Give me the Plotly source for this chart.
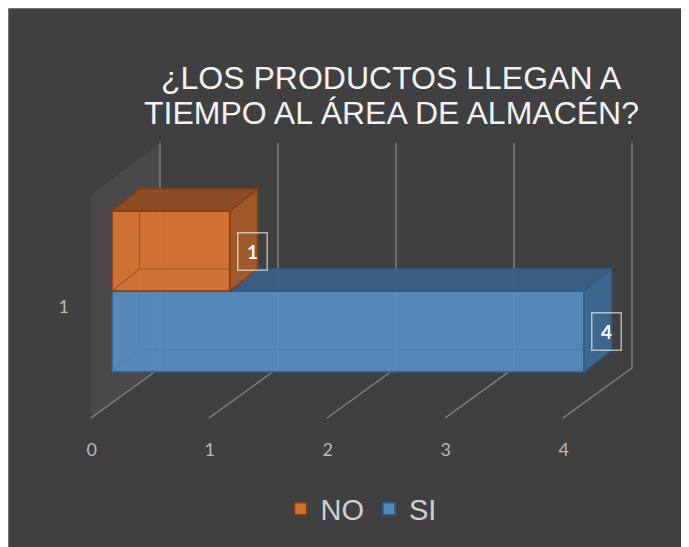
import plotly.graph_objects as go

# ---------------- data ----------------
categories = ["1"]
series_names = ["NO", "SI"]
values_no = [1]
values_si = [4]
x_ticks = [0, 1, 2, 3, 4]
x_tick_labels = ["0", "1", "2", "3", "4"]
title_lines = ["¿LOS PRODUCTOS LLEGAN A", "TIEMPO AL ÁREA DE ALMACÉN?"]

# ---------------- styles / geometry (layout, not data) ----------------
BG = "#404040"
GRID = "#858585"
WALL = "#4A4848"
FONT_TITLE = "Liberation Sans, Arial, sans-serif"
FONT_AX = "Lato, Carlito, sans-serif"

W, H = 689, 547
OFF = 8                                  # page body margin
PX_PER_UNIT = 118.0
FRONT_X0 = 112.0 - OFF                   # figure pixel of value 0 on the bar front plane
BACK_OFF = 48 / PX_PER_UNIT              # back wall plane offset (value units)
FLOOR_OFF = -21 / PX_PER_UNIT            # floor front edge offset
GRID_TOP, GRID_BOT, FLOOR_Y = 143 - OFF, 368 - OFF, 418 - OFF
WALL_TOP_FRONT = 195 - OFF
DDX, DDY = 27.5 / PX_PER_UNIT, -22.0     # bar depth offset

bar_rows = {"NO": (211 - OFF, 291 - OFF), "SI": (291 - OFF, 372 - OFF)}
colors = {
    "NO": dict(front="rgba(219,117,52,0.93)", top="rgba(142,78,35,0.95)",
               side="rgba(166,90,40,0.93)", edge="#8A3D0E", hidden="rgba(120,60,20,0.5)"),
    "SI": dict(front="rgba(86,141,192,0.93)", top="rgba(58,96,132,0.95)",
               side="rgba(62,106,148,0.93)", edge="#2B5C8C", hidden="rgba(70,130,190,0.7)"),
}

x_range = [-FRONT_X0 / PX_PER_UNIT, (W - FRONT_X0) / PX_PER_UNIT]
y_range = [H, 0]

fig = go.Figure()

# side wall + gridlines as shapes below the traces
shapes = [dict(type="rect", xref="paper", yref="paper", x0=0, x1=1, y0=0, y1=1,
               fillcolor=BG, line=dict(color="#8C8C8C", width=1.5), layer="below")]
t0 = x_ticks[0]
shapes.append(dict(
    type="path", xref="x", yref="y", layer="below",
    path=(f"M{t0 + FLOOR_OFF},{FLOOR_Y} L{t0 + BACK_OFF},{GRID_BOT} "
          f"L{t0 + BACK_OFF},{GRID_TOP} L{t0 + FLOOR_OFF},{WALL_TOP_FRONT} Z"),
    fillcolor=WALL, line=dict(width=0)))
for t in x_ticks:
    shapes.append(dict(
        type="path", xref="x", yref="y", layer="below",
        path=(f"M{t + BACK_OFF},{GRID_TOP} L{t + BACK_OFF},{GRID_BOT} "
              f"L{t + FLOOR_OFF},{FLOOR_Y}"),
        line=dict(color=GRID, width=1.3)))

# tick labels
fig.add_trace(go.Scatter(
    x=[t + FLOOR_OFF + 0.006 for t in x_ticks], y=[451 - OFF] * len(x_ticks),
    mode="text", text=x_tick_labels,
    textfont=dict(family=FONT_AX, size=18, color="#B8B8B8"),
    hoverinfo="skip", showlegend=False))
fig.add_trace(go.Scatter(
    x=[-0.41], y=[308 - OFF], mode="text", text=categories,
    textfont=dict(family=FONT_AX, size=18, color="#B8B8B8"),
    hoverinfo="skip", showlegend=False))


def add_box(name, value, rank, xa, ya):
    top, bot = bar_rows[name]
    c = colors[name]
    v = value
    # front face (real bar)
    fig.add_trace(go.Bar(
        x=[v], y=[(top + bot) / 2], width=[bot - top], base=0, orientation="h",
        name=name, legendrank=rank, xaxis=xa, yaxis=ya,
        marker=dict(color=c["front"], line=dict(color=c["edge"], width=1.5)),
        hovertemplate=f"{name}: %{{x}}<extra></extra>"))
    # hidden (back) edges seen through the transparent front face
    fig.add_trace(go.Scatter(
        x=[DDX, v + DDX, None, DDX, DDX, None, 0, DDX],
        y=[bot + DDY, bot + DDY, None, top + DDY, bot + DDY, None, bot, bot + DDY],
        mode="lines", line=dict(color=c["hidden"], width=1.2), xaxis=xa, yaxis=ya,
        hoverinfo="skip", showlegend=False))
    # top face
    fig.add_trace(go.Scatter(
        x=[0, v, v + DDX, DDX, 0], y=[top, top, top + DDY, top + DDY, top],
        fill="toself", fillcolor=c["top"], mode="lines", xaxis=xa, yaxis=ya,
        line=dict(color=c["edge"], width=1.5), hoverinfo="skip", showlegend=False))
    # side face
    fig.add_trace(go.Scatter(
        x=[v, v + DDX, v + DDX, v, v], y=[top, top + DDY, bot + DDY, bot, top],
        fill="toself", fillcolor=c["side"], mode="lines", xaxis=xa, yaxis=ya,
        line=dict(color=c["edge"], width=1.5), hoverinfo="skip", showlegend=False))
    # data label
    fig.add_annotation(
        x=v + 0.19, y=(top + bot) / 2, xref="x", yref="y", text=f"<b>{v}</b>",
        showarrow=False, font=dict(family=FONT_AX, size=19, color="#FFFFFF"),
        bordercolor="rgba(255,255,255,0.6)", borderwidth=1.5, borderpad=2,
        width=24, height=32, align="center", valign="middle")


# SI in the base subplot, NO in an overlaying subplot so that it is drawn in front
add_box("SI", values_si[0], 2, "x", "y")
add_box("NO", values_no[0], 1, "x2", "y2")

# title (two lines, Excel-like line spacing)
for i, line in enumerate(title_lines):
    fig.add_annotation(
        x=(391 - OFF) / W, y=1 - (78 + 35 * i - OFF) / H, xref="paper", yref="paper",
        text=line, showarrow=False, xanchor="center", yanchor="middle",
        font=dict(family=FONT_TITLE, size=32, color="#F2F2F2"))

fig.update_layout(
    width=W, height=H,
    margin=dict(l=0, r=0, t=0, b=0),
    paper_bgcolor=BG, plot_bgcolor="rgba(0,0,0,0)",
    barmode="overlay",
    xaxis=dict(range=x_range, visible=False, fixedrange=True),
    yaxis=dict(range=y_range, visible=False, fixedrange=True),
    xaxis2=dict(range=x_range, visible=False, fixedrange=True, overlaying="x"),
    yaxis2=dict(range=y_range, visible=False, fixedrange=True, overlaying="y"),
    legend=dict(orientation="h", x=(361 - OFF) / W, xanchor="center",
                y=1 - (509 - OFF) / H, yanchor="middle",
                font=dict(family=FONT_TITLE, size=29, color="#CFCFCF"),
                bgcolor="rgba(0,0,0,0)", traceorder="normal",
                itemclick=False, itemdoubleclick=False),
    shapes=shapes,
    showlegend=True,
)

fig.write_html("out.html")
